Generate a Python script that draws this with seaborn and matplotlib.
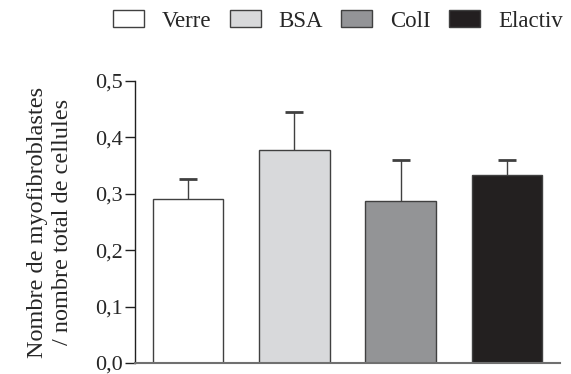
import numpy as np
import pandas as pd
import matplotlib
matplotlib.use("Agg")
import matplotlib.pyplot as plt
import seaborn as sns
from matplotlib.patches import Patch

# data
groupes = ['Verre', 'BSA', 'ColI', 'Elactiv']
moyennes = [0.290, 0.378, 0.288, 0.333]
erreurs = [0.037, 0.067, 0.072, 0.027]
couleurs = ['#ffffff', '#d8d9db', '#939497', '#231f20']
yticks = [0.0, 0.1, 0.2, 0.3, 0.4, 0.5]
ytick_labels = ['0,0', '0,1', '0,2', '0,3', '0,4', '0,5']

sns.set_style('ticks')
plt.rcParams['font.family'] = ['Liberation Serif', 'DejaVu Serif']

df = pd.DataFrame({'groupe': groupes, 'valeur': moyennes})

fig = plt.figure(figsize=(5.71, 3.74), dpi=100)
ax = fig.add_axes([0.2364, 0.0294, 0.7443, 0.754])

sns.barplot(data=df, x='groupe', y='valeur', hue='groupe', palette=couleurs,
            order=groupes, hue_order=groupes, errorbar=None, width=0.665,
            edgecolor='#404040', linewidth=1.0, legend=False, ax=ax)

# barres d'erreur (seulement vers le haut)
eb = ax.errorbar(np.arange(len(groupes)), moyennes,
                 yerr=[np.zeros(len(erreurs)), erreurs],
                 fmt='none', ecolor='#404040', elinewidth=1.0,
                 capsize=6.5, capthick=2.0)
eb[1][0].set_visible(False)  # pas de cap en bas

ax.set_xlim(-0.5, 3.5)
ax.set_ylim(0, 0.5)
ax.set_yticks(yticks)
ax.set_yticklabels(ytick_labels, fontsize=16)
ax.set_xticks([])
ax.set_xlabel('')
ax.set_ylabel('Nombre de myofibroblastes\n/ nombre total de cellules',
              fontsize=17.5, labelpad=16, linespacing=1.25)
ax.tick_params(axis='y', length=7, width=1.0, color='#202020', pad=2)

sns.despine(ax=ax)
ax.spines['left'].set_color('#202020')
ax.spines['left'].set_linewidth(1.0)
ax.spines['bottom'].set_color('#707070')
ax.spines['bottom'].set_linewidth(1.5)

handles = [Patch(facecolor=c, edgecolor='#404040', linewidth=1.0) for c in couleurs]
fig.legend(handles, groupes, loc='center left', bbox_to_anchor=(113 / 571, 1 - 21 / 374),
           ncol=4, frameon=False, fontsize=16.5, borderpad=0, borderaxespad=0,
           handlelength=1.35, handleheight=0.7, handletextpad=0.79, columnspacing=0.79)

fig.savefig('out.png', dpi=100)
